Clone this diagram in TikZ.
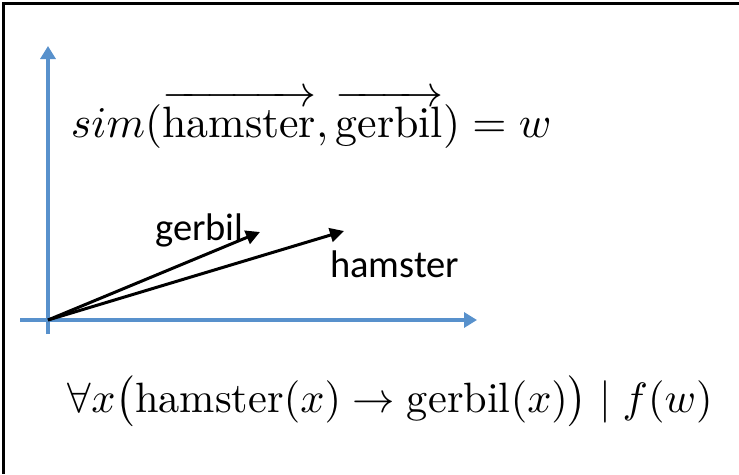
\documentclass[tikz,border=0pt]{standalone}
\usepackage{fontspec}
\usepackage{amsmath}
\newfontfamily\labelfont{Carlito}
\usetikzlibrary{arrows.meta}
\definecolor{axisblue}{RGB}{88,145,204}
\tikzset{
  axis/.style={draw=axisblue, line width=3.2pt, -{Triangle[length=13pt,width=15pt]}},
  vec/.style={draw=black, line width=3pt, -{Triangle[length=14pt,width=14pt]}},
  formula/.style={anchor=base west, inner sep=0pt, transform shape},
  wordlabel/.style={anchor=base west, inner sep=0pt, font=\labelfont\fontsize{38.5}{42}\selectfont},
  frameline/.style={draw=black, line width=3pt}
}
\begin{document}
\begin{tikzpicture}[x=1pt,y=-1pt]
\useasboundingbox (0,0) rectangle (739,474);
% frame: top and left edges only
\coordinate (tl) at (3.5,3.5);
\coordinate (tr) at (739,3.5);
\coordinate (bl) at (3.5,474);
\draw[frameline] (tr) -- (tl) -- (bl);
% axes
\coordinate (O) at (48,320);
\coordinate (ybot) at (48,334);
\coordinate (ytop) at (48,46);
\coordinate (xleft) at (20,320);
\coordinate (xright) at (477,320);
\draw[axis] (ybot) -- (ytop);
\draw[axis] (xleft) -- (xright);
% vectors
\coordinate (gtip) at (260,232);
\coordinate (htip) at (344,231);
\draw[vec] (O) -- (gtip);
\draw[vec] (O) -- (htip);
% labels
\node[wordlabel] (glab) at (155,240) {gerbil};
\node[wordlabel] (hlab) at (330,277) {hamster};
% formulas
\node[formula, scale=4.39] (f1) at (70,137) {$sim(\overrightarrow{\mathrm{hamster}},\overrightarrow{\mathrm{gerbil}})=w$};
\node[formula, scale=4.24] (f2) at (67,412) {$\forall x\bigl(\mathrm{hamster}(x)\rightarrow\mathrm{gerbil}(x)\bigr)\mid f(w)$};
\end{tikzpicture}
\end{document}
